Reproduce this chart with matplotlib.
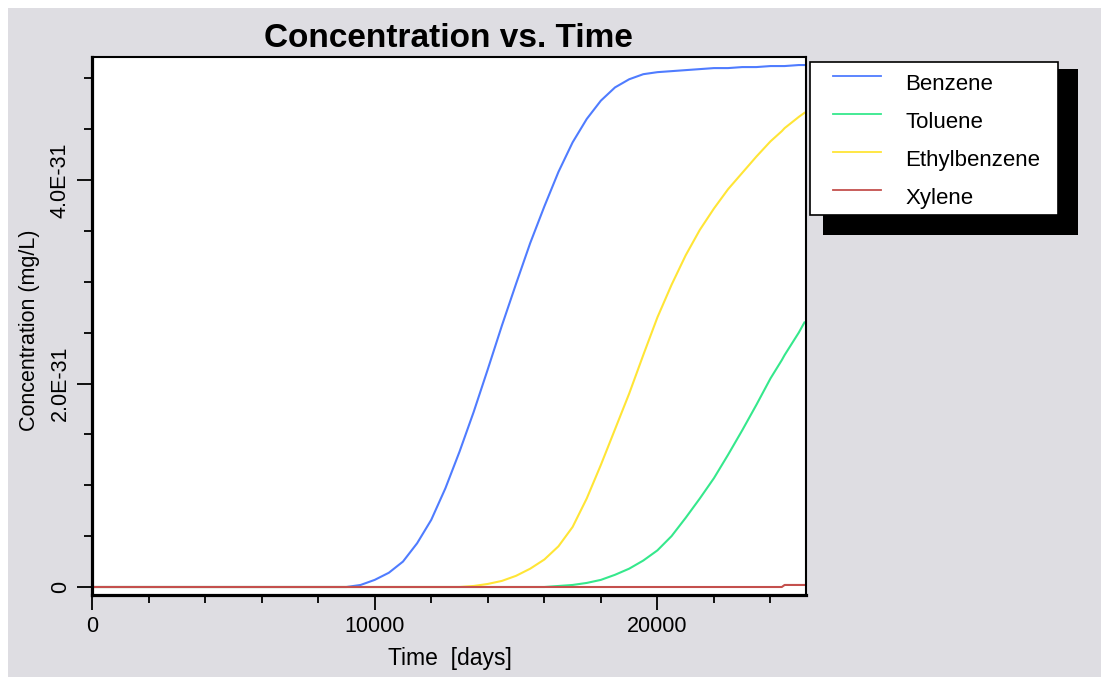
import matplotlib
matplotlib.use("Agg")
import matplotlib.pyplot as plt
from matplotlib.patches import Rectangle
from matplotlib.lines import Line2D
from matplotlib.ticker import FixedLocator, MultipleLocator

# ---------------- data (concentration in units of 1E-31 mg/L) ----------------
days = [0, 2000, 4000, 6000, 8000, 8500, 9000, 9500, 10000, 10500,
        11000, 11500, 12000, 12500, 13000, 13500, 14000, 14500, 15000, 15500,
        16000, 16500, 17000, 17500, 18000, 18500, 19000, 19500, 20000, 20500,
        21000, 21500, 22000, 22500, 23000, 23500, 24000, 24400, 24500, 25000, 25200]
benzene = [0, 0, 0, 0, 0, 0, 0.0, 0.02, 0.07, 0.14,
           0.25, 0.43, 0.66, 0.97, 1.33, 1.72, 2.14, 2.57, 2.98, 3.38,
           3.74, 4.08, 4.37, 4.60, 4.78, 4.91, 4.99, 5.04, 5.06, 5.07,
           5.08, 5.09, 5.10, 5.10, 5.11, 5.11, 5.12, 5.12, 5.12, 5.13, 5.13]
toluene = [0, 0, 0, 0, 0, 0, 0, 0, 0, 0,
           0, 0, 0, 0, 0, 0, 0, 0, 0, 0,
           0.0, 0.01, 0.02, 0.04, 0.07, 0.12, 0.18, 0.26, 0.36, 0.50,
           0.68, 0.87, 1.07, 1.30, 1.54, 1.79, 2.05, 2.23, 2.28, 2.50, 2.60]
ethylbenzene = [0, 0, 0, 0, 0, 0, 0, 0, 0, 0,
                0, 0, 0, 0, 0.0, 0.01, 0.03, 0.06, 0.11, 0.18,
                0.27, 0.40, 0.59, 0.87, 1.20, 1.55, 1.90, 2.28, 2.65, 2.97,
                3.26, 3.51, 3.72, 3.91, 4.07, 4.23, 4.38, 4.48, 4.51, 4.62, 4.66]
xylene = [0, 0, 0, 0, 0, 0, 0, 0, 0, 0,
          0, 0, 0, 0, 0, 0, 0, 0, 0, 0,
          0, 0, 0, 0, 0, 0, 0, 0, 0, 0,
          0, 0, 0, 0, 0, 0, 0, 0, 0.02, 0.02, 0.02]
series_names = ["Benzene", "Toluene", "Ethylbenzene", "Xylene"]
series_values = [benzene, toluene, ethylbenzene, xylene]
series_colors = ["#4f7cff", "#35e88c", "#ffe536", "#c4504d"]
scale = 1e-31
y_ticks = [0, 2e-31, 4e-31]
y_tick_labels = ["0", "2.0E-31", "4.0E-31"]
x_ticks = [0, 10000, 20000]
x_tick_labels = ["0", "10000", "20000"]

# ---------------- figure ----------------
W, H = 1101, 677
BG = "#dedde2"
plt.rcParams["font.family"] = ["Liberation Sans", "DejaVu Sans"]
fig = plt.figure(figsize=(W / 100, H / 100), dpi=100)
fig.patch.set_facecolor("white")
fig.patches.append(Rectangle((8 / W, 0), 1 - 8 / W, 1 - 8 / H, transform=fig.transFigure,
                             facecolor=BG, edgecolor="none", zorder=-10))

def fx(px):
    return px / W

def fy(py):
    return 1 - py / H

L, R, T, B = 91.5, 806, 57, 595
ax = fig.add_axes([fx(L), fy(B), (R - L) / W, (B - T) / H])
ax.set_facecolor("white")

for name, vals, col in zip(series_names, series_values, series_colors):
    ax.plot(days, [v * scale for v in vals], color=col, lw=1.5, label=name)

ax.set_xlim(-18, 25256)
ax.set_ylim(-0.0786e-31, 5.209e-31)

ax.xaxis.set_major_locator(FixedLocator(x_ticks))
ax.set_xticklabels(x_tick_labels)
ax.xaxis.set_minor_locator(MultipleLocator(2000))
ax.yaxis.set_major_locator(FixedLocator(y_ticks))
ax.set_yticklabels(y_tick_labels)
ax.yaxis.set_minor_locator(MultipleLocator(0.5e-31))

ax.tick_params(which="major", direction="out", length=11, width=1.3, labelsize=15.5,
               colors="black")
ax.tick_params(which="minor", direction="out", length=6, width=1.3)
ax.tick_params(axis="x", pad=4)
ax.tick_params(axis="y", pad=4)
for lab in ax.get_yticklabels():
    lab.set_rotation(90)
    lab.set_va("center")
    lab.set_ha("right")

for side in ["left", "bottom"]:
    ax.spines[side].set_linewidth(2.3)
for side in ["top", "right"]:
    ax.spines[side].set_linewidth(1.5)

# titles and labels
fig.text(fx(448), fy(47), "Concentration vs. Time", ha="center", va="baseline",
         fontsize=24, fontweight="bold")
fig.text(fx(449.5), fy(665), "Time  [days]", ha="center", va="baseline", fontsize=16.5)
fig.text(fx(30), fy(330), "Concentration (mg/L)", ha="center", va="center",
         rotation=90, fontsize=15.5)

# legend (drawn with shadow box, as in the reference)
fig.patches.append(Rectangle((fx(823), fy(235)), (1078 - 823) / W, (235 - 69) / H,
                             transform=fig.transFigure, facecolor="black",
                             edgecolor="none", zorder=3))
fig.patches.append(Rectangle((fx(810), fy(215)), (1058 - 810) / W, (215 - 62) / H,
                             transform=fig.transFigure, facecolor="white",
                             edgecolor="black", lw=1.2, zorder=4))
for i, (name, col) in enumerate(zip(series_names, series_colors)):
    yl = 76 + 38 * i
    fig.lines.append(Line2D([fx(833), fx(881)], [fy(yl), fy(yl)], transform=fig.transFigure,
                            color=col, lw=1.3, zorder=5))
    fig.text(fx(905), fy(yl + 14), name, ha="left", va="baseline", fontsize=16, zorder=5)

fig.savefig("out.png", dpi=100)
